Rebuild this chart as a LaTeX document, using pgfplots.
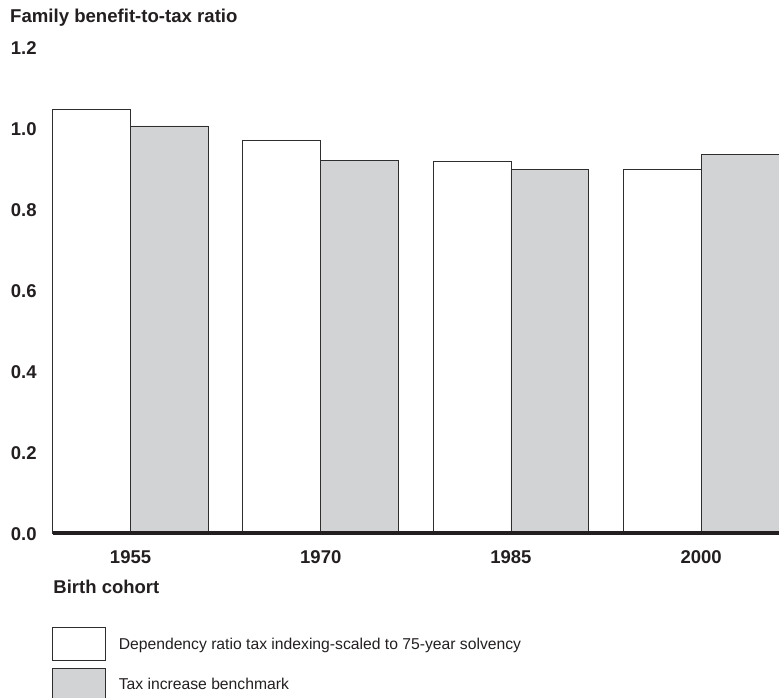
\documentclass[border=0pt]{standalone}
\usepackage{pgfplots}
\pgfplotsset{compat=1.18}
\usepackage{fontspec}
\setmainfont{Liberation Sans}
\definecolor{txt}{HTML}{231F20}
\definecolor{barfill}{HTML}{D1D3D4}
\definecolor{edge}{HTML}{2E2E2E}
\begin{document}
\begin{tikzpicture}
\useasboundingbox (-52.7bp,-165bp) rectangle (726.3bp,533bp);
\begin{axis}[
  scale only axis,
  width=726.3bp, height=486bp,
  xmin=-0.4094, xmax=3.4094,
  ymin=0, ymax=1.2,
  xtick={0,1,2,3}, xticklabels={1955,1970,1985,2000},
  ytick={0,0.2,0.4,0.6,0.8,1.0,1.2},
  yticklabels={0.0,0.2,0.4,0.6,0.8,1.0,1.2},
  axis x line*=bottom, axis y line*=left,
  y axis line style={draw=none},
  x axis line style={-, line width=4bp, draw=txt},
  major tick length=0pt,
  tick style={draw=none},
  axis on top,
  clip=false,
  tick label style={font=\fontsize{18.5bp}{20bp}\selectfont\bfseries, text=txt, inner sep=0pt},
  yticklabel style={anchor=west, xshift=-42bp, yshift=-1.5bp},
  xticklabel style={anchor=north, yshift=-17bp},
  xlabel={Birth cohort},
  xlabel style={at={(axis description cs:0.0008,-0.1255)}, anchor=base west, font=\fontsize{18.5bp}{20bp}\selectfont\bfseries, text=txt, inner sep=0pt},
  ylabel={Family benefit-to-tax ratio},
  ylabel style={rotate=-90, at={(axis description cs:-0.0588,1.050)}, anchor=base west, font=\fontsize{18.6bp}{20bp}\selectfont\bfseries, text=txt, inner sep=0pt},
  legend style={at={(axis description cs:-0.0014,-0.194)}, anchor=north west, draw=none, fill=none, inner sep=0pt, row sep=7bp, font=\fontsize{15.7bp}{19bp}\selectfont, text=txt, nodes={inner sep=0pt}, /tikz/every odd column/.append style={column sep=13bp}, cells={anchor=west}},
  legend image code/.code={\draw[#1] (0bp,-16.3bp) rectangle (53bp,16.3bp);},
]
\addplot[ybar, bar width=0.4094, bar shift=-0.2047, fill=white, draw=edge, line width=0.9bp] coordinates {(0,1.045) (1,0.970) (2,0.918) (3,0.897)};
\addplot[ybar, bar width=0.4094, bar shift=0.2047, fill=barfill, draw=edge, line width=0.9bp] coordinates {(0,1.005) (1,0.919) (2,0.898) (3,0.935)};
\legend{Dependency ratio tax indexing-scaled to 75-year solvency, Tax increase benchmark}
\end{axis}
\end{tikzpicture}
\end{document}
